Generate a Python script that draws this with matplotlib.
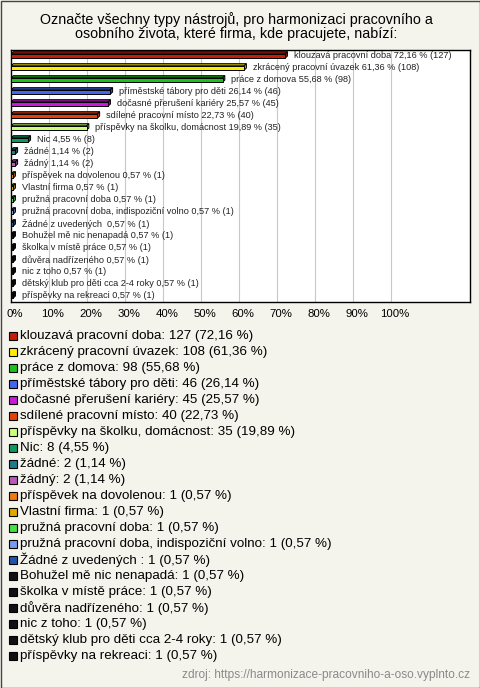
import matplotlib.pyplot as plt
import matplotlib.patches as mpatches
import numpy as np

plt.rcParams['font.family'] = ['Liberation Sans', 'DejaVu Sans']

labels = [
    'klouzavá pracovní doba', 'zkrácený pracovní úvazek', 'práce z domova',
    'příměstské tábory pro děti', 'dočasné přerušení kariéry', 'sdílené pracovní místo',
    'příspěvky na školku, domácnost', 'Nic', 'žádné', 'žádný',
    'příspěvek na dovolenou', 'Vlastní firma', 'pružná pracovní doba',
    'pružná pracovní doba, indispoziční volno', 'Žádné z uvedených ',
    'Bohužel mě nic nenapadá', 'školka v místě práce', 'důvěra nadřízeného',
    'nic z toho', 'dětský klub pro děti cca 2-4 roky', 'příspěvky na rekreaci',
]
counts = [127, 108, 98, 46, 45, 40, 35, 8, 2, 2, 1, 1, 1, 1, 1, 1, 1, 1, 1, 1, 1]
percents = [72.16, 61.36, 55.68, 26.14, 25.57, 22.73, 19.89, 4.55, 1.14, 1.14,
            0.57, 0.57, 0.57, 0.57, 0.57, 0.57, 0.57, 0.57, 0.57, 0.57, 0.57]
colors = ['#c41e0a', '#ffee00', '#1fbf1f', '#4466ee', '#c81ad8', '#e8400c',
          '#ccff77', '#109860', '#1f7a8c', '#b858b8', '#ee7a10', '#ddaa00',
          '#44e044', '#7799ee', '#2255aa', '#111111', '#111111', '#111111',
          '#111111', '#111111', '#111111']
ticks = [0, 10, 20, 30, 40, 50, 60, 70, 80, 90, 100]

W, H = 480, 688
bg = '#f4f3ec'
fig = plt.figure(figsize=(W / 100, H / 100), dpi=100, facecolor=bg)


def fx(x):
    return x / W


def fy(y):
    return 1 - y / H


# outer frame
fig.patches.append(mpatches.Rectangle((0.5 / W, 0.5 / H), 1 - 1 / W, 1 - 1 / H,
                                      transform=fig.transFigure, fill=False,
                                      edgecolor='#444444', lw=1))

fig.text(fx(236), fy(20), 'Označte všechny typy nástrojů, pro harmonizaci pracovního a',
         ha='center', va='center', fontsize=10.3)
fig.text(fx(236), fy(34), 'osobního života, které firma, kde pracujete, nabízí:',
         ha='center', va='center', fontsize=10.3)

ax = fig.add_axes([fx(11), fy(302), fx(459), 252 / H])
ax.set_facecolor('white')
n = len(labels)
y = np.arange(n)
ax.set_xlim(0, 120.8)
ax.set_ylim(n - 0.5, -0.5)
for t in ticks[1:]:
    ax.axvline(t, color='#c8c8c8', lw=0.8, zorder=0)

# 3D-ish bars: darker top face behind the front face
dx, dy = 0.6, 0.18
hgt = 0.36
darker = [tuple(c * 0.7 for c in plt.matplotlib.colors.to_rgb(col)) for col in colors]
for i in range(n):
    p = percents[i]
    y0 = y[i] + hgt / 2
    top = [(0, y0 - hgt), (p, y0 - hgt), (p + dx, y0 - hgt - dy), (dx, y0 - hgt - dy)]
    side = [(p, y0), (p, y0 - hgt), (p + dx, y0 - hgt - dy), (p + dx, y0 - dy)]
    ax.add_patch(mpatches.Polygon(top, closed=True, facecolor=darker[i],
                                  edgecolor='black', lw=0.7, zorder=2))
    ax.add_patch(mpatches.Polygon(side, closed=True, facecolor=darker[i],
                                  edgecolor='black', lw=0.7, zorder=2))
ax.barh(y, percents, height=hgt, color=colors, edgecolor='black', lw=0.7, zorder=3)

for i in range(n):
    txt = f'{labels[i]} {percents[i]:.2f} % ({counts[i]})'.replace('.', ',')
    ax.text(percents[i] + 2.2, y[i], txt, va='center', ha='left', fontsize=6.6,
            color='#222222', zorder=4)

ax.set_xticks([])
ax.set_yticks([])
for s in ax.spines.values():
    s.set_color('black')
    s.set_linewidth(1)

for t in ticks:
    fig.text(fx(11 + t * 3.8 + 4), fy(314), f'{t}%', ha='center', va='center',
             fontsize=8.2)

# legend
for i in range(n):
    yy = 336 + i * 16.0
    fig.patches.append(mpatches.Rectangle((fx(9), fy(yy + 4)), fx(8), 8 / H,
                                          transform=fig.transFigure,
                                          facecolor=colors[i], edgecolor='black', lw=0.8))
    txt = f'{labels[i]}: {counts[i]} ({percents[i]:.2f} %)'.replace('.', ',')
    fig.text(fx(20), fy(yy), txt, ha='left', va='center', fontsize=9.6)

fig.text(fx(470), fy(675), 'zdroj: https://harmonizace-pracovniho-a-oso.vyplnto.cz',
         ha='right', va='center', fontsize=8.6, color='#8a8a8a')

fig.savefig('out.png', dpi=100, facecolor=bg)
